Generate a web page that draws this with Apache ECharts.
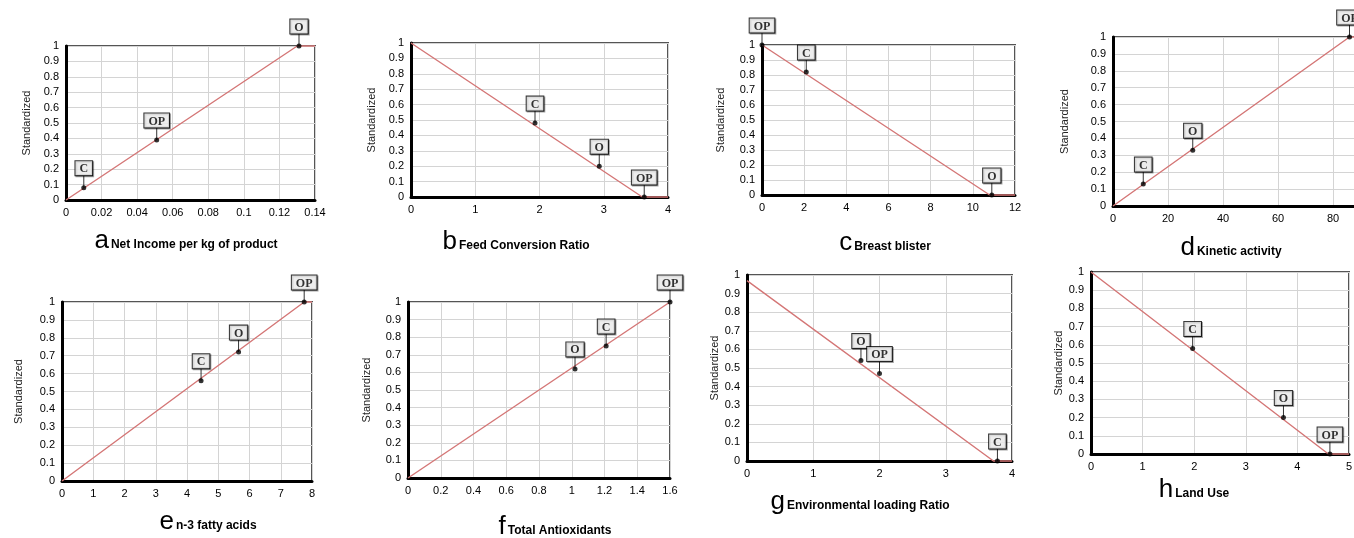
<!DOCTYPE html>
<html><head><meta charset="utf-8">
<script src="https://cdn.jsdelivr.net/npm/echarts@6/dist/echarts.min.js"></script>
<style>html,body{margin:0;padding:0;background:#fff}#c{width:1354px;height:538px}</style>
</head><body><div id="c"></div>
<script>
// ---- data ----
const panelLetters = ['a','b','c','d','e','f','g','h'];
const panelTitles = ['Net Income per kg of product','Feed Conversion Ratio','Breast blister','Kinetic activity','n-3 fatty acids','Total Antioxidants','Environmental loading Ratio','Land Use'];
const yName = 'Standardized';
const xMax = [0.14, 4, 12, 100, 8, 1.6, 4, 5];
const xInterval = [0.02, 1, 2, 20, 1, 0.2, 1, 1];

const lineA = [[0,0],[0.13,1],[0.14,1]];
const lineB = [[0,1],[3.6,0],[4,0]];
const lineC = [[0,1],[10.8,0],[12,0]];
const lineD = [[0,0],[86,1],[100,1]];
const lineE = [[0,0],[7.75,1],[8,1]];
const lineF = [[0,0],[1.6,1]];
const lineG = [[0,0.97],[3.72,0],[4,0]];
const lineH = [[0,1],[4.6,0],[5,0]];

const pointsA = [[0.01,0.08,'C'],[0.051,0.39,'OP'],[0.131,1,'O']];
const pointsB = [[1.93,0.48,'C'],[2.93,0.2,'O'],[3.63,0,'OP']];
const pointsC = [[0,1,'OP'],[2.1,0.82,'C'],[10.9,0,'O']];
const pointsD = [[11,0.13,'C'],[29,0.33,'O'],[86,1,'OP']];
const pointsE = [[4.45,0.56,'C'],[5.65,0.72,'O'],[7.75,1,'OP']];
const pointsF = [[1.02,0.62,'O'],[1.21,0.75,'C'],[1.6,1,'OP']];
const pointsG = [[1.72,0.54,'O'],[2.0,0.47,'OP'],[3.78,0,'C']];
const pointsH = [[1.97,0.58,'C'],[3.73,0.2,'O'],[4.63,0,'OP']];

const lines = [lineA,lineB,lineC,lineD,lineE,lineF,lineG,lineH];
const points = [pointsA,pointsB,pointsC,pointsD,pointsE,pointsF,pointsG,pointsH];

// ---- layout ----
const grids = [
  {left:66, top:46, width:249, height:154},
  {left:411, top:43, width:257, height:154},
  {left:762, top:45, width:253, height:150},
  {left:1113, top:37, width:275, height:169},
  {left:62, top:302, width:250, height:179},
  {left:408, top:302, width:262, height:176},
  {left:747, top:275, width:265, height:186},
  {left:1091, top:272, width:258, height:182}
];
const nameGaps = [34, 34, 36, 43, 38, 36, 22, 22];
const titlePos = [[186,241],[516,242],[885,243],[1231,248],[208,522],[555,527],[860,502],[1194,490]];

const option = {
  animation:false,
  backgroundColor:'#fff',
  grid:[], xAxis:[], yAxis:[], series:[], graphic:[]
};
for (let i=0;i<8;i++){
  option.grid.push(Object.assign({show:true, borderColor:'#555', borderWidth:2, containLabel:false, outerBoundsMode:'none'}, grids[i]));
  option.xAxis.push({
    type:'value', gridIndex:i, min:0, max:xMax[i], interval:xInterval[i],
    axisLine:{show:true, onZero:false, lineStyle:{color:'#000', width:3}},
    axisTick:{show:false},
    axisLabel:{fontSize:11, color:'#000', margin:7, fontFamily:'Liberation Sans', showMaxLabel:true, hideOverlap:false},
    splitLine:{show:true, lineStyle:{color:'#d4d4d4', width:1}}
  });
  option.yAxis.push({
    type:'value', gridIndex:i, min:0, max:1, interval:0.1,
    name:yName, nameLocation:'middle', nameRotate:90, nameGap:nameGaps[i],
    nameTextStyle:{fontSize:11, color:'#222', fontFamily:'Liberation Sans'},
    axisLine:{show:true, onZero:false, lineStyle:{color:'#000', width:3}},
    axisTick:{show:false},
    axisLabel:{fontSize:11, color:'#000', margin:7, fontFamily:'Liberation Sans', hideOverlap:false},
    splitLine:{show:true, lineStyle:{color:'#d4d4d4', width:1}}
  });
  option.series.push({
    type:'line', xAxisIndex:i, yAxisIndex:i, data:lines[i], symbol:'none', clip:false,
    lineStyle:{color:'#d47676', width:1.4}, z:3
  });
  option.series.push({
    type:'scatter', xAxisIndex:i, yAxisIndex:i, data:points[i], clip:false,
    symbol:'rect', symbolSize:[1,12], symbolOffset:[0,-6],
    itemStyle:{color:'#000'}, z:4, silent:true
  });
  option.series.push({
    type:'scatter', xAxisIndex:i, yAxisIndex:i, data:points[i], clip:false,
    symbol:'circle', symbolSize:5, itemStyle:{color:'#000'}, z:5,
    label:{show:true, position:'top', distance:10,
      formatter:function(p){return p.data[2];},
      backgroundColor:'#fff', borderColor:'#000', borderWidth:1,
      padding:[2,4,0,4], fontFamily:'Liberation Serif', fontWeight:'bold', fontSize:12, color:'#000',
      shadowColor:'rgba(0,0,0,0.45)', shadowOffsetX:1, shadowOffsetY:1, shadowBlur:0}
  });
  option.graphic.push({
    type:'text', x:titlePos[i][0], y:titlePos[i][1], z:10,
    style:{
      text:'{b|'+panelLetters[i]+'}{s|'+panelTitles[i]+'}',
      align:'center', verticalAlign:'middle',
      rich:{
        b:{fontSize:26, fontFamily:'Liberation Sans', color:'#000', verticalAlign:'bottom', lineHeight:26},
        s:{fontSize:12, fontWeight:'bold', fontFamily:'Liberation Sans', color:'#000', verticalAlign:'bottom', lineHeight:14, padding:[0,0,3,2]}
      }
    }
  });
}
const chart = echarts.init(document.getElementById('c'), null, {renderer:'canvas'});
chart.setOption(option);
</script>
</body></html>
